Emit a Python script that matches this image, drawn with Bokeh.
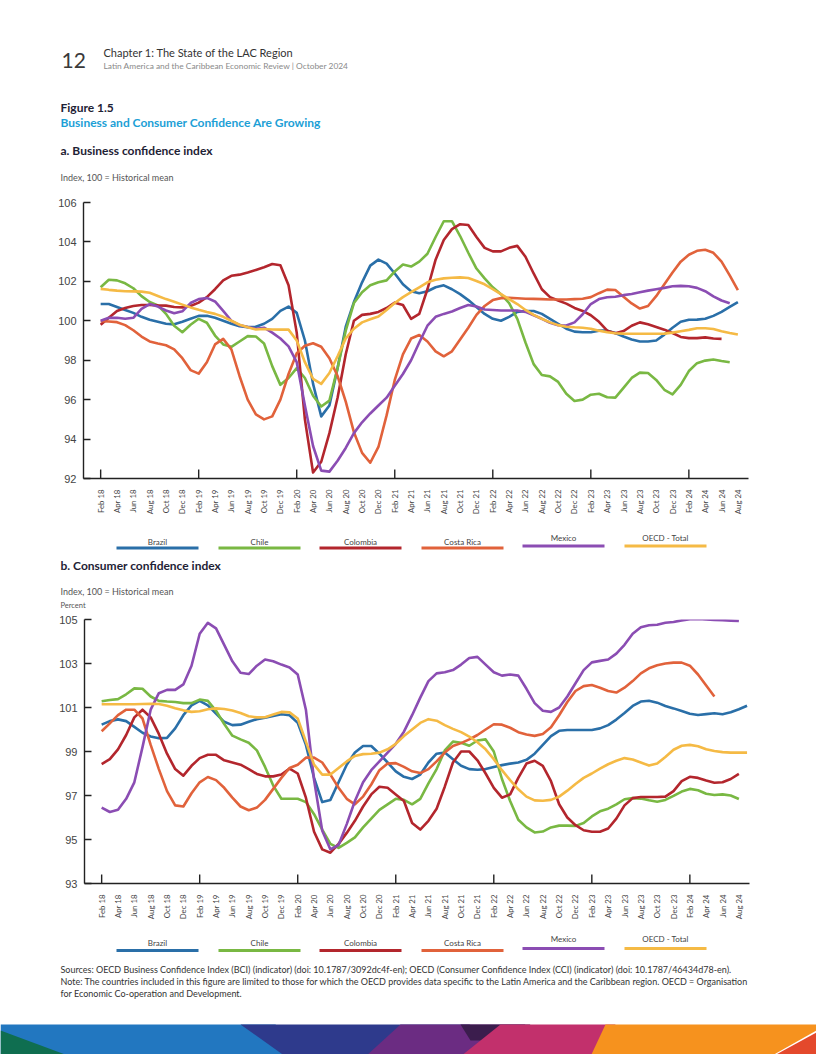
import math
from bokeh.plotting import figure
from bokeh.models import Range1d, FixedTicker, LinearAxis
from bokeh.core.properties import value
from bokeh.embed import file_html
from bokeh.resources import INLINE

nan = float("nan")

# ---------------- data (monthly, Feb 2018 = index 0) ----------------
months = list(range(80))

tick_labels = ["Feb 18", "Apr 18", "Jun 18", "Aug 18", "Oct 18", "Dec 18",
               "Feb 19", "Apr 19", "Jun 19", "Aug 19", "Oct 19", "Dec 19",
               "Feb 20", "Apr 20", "Jun 20", "Aug 20", "Oct 20", "Dec 20",
               "Feb 21", "Apr 21", "Jun 21", "Aug 21", "Oct 21", "Dec 21",
               "Feb 22", "Apr 22", "Jun 22", "Aug 22", "Oct 22", "Dec 22",
               "Feb 23", "Apr 23", "Jun 23", "Aug 23", "Oct 23", "Dec 23",
               "Feb 24", "Apr 24", "Jun 24", "Aug 24"]

countries = ["Brazil", "Chile", "Colombia", "Costa Rica", "Mexico", "OECD - Total"]

bci_brazil = [100.85, 100.85, 100.7, 100.55, 100.4, 100.2, 100.05, 99.95, 99.85, 99.82,
              99.95, 100.1, 100.25, 100.25, 100.15, 100.0, 99.85, 99.72, 99.68, 99.7,
              99.85, 100.1, 100.5, 100.72, 100.4, 99.0, 96.8, 95.15, 95.7, 97.6,
              99.7, 100.95, 101.95, 102.8, 103.1, 102.9, 102.4, 101.85, 101.5, 101.4,
              101.5, 101.7, 101.8, 101.6, 101.35, 101.05, 100.7, 100.35, 100.1, 100.0,
              100.2, 100.45, 100.5, 100.5, 100.35, 100.1, 99.85, 99.6, 99.45, 99.42,
              99.42, 99.5, 99.5, 99.38, 99.2, 99.05, 98.95, 98.95, 99.0, 99.3,
              99.65, 99.95, 100.05, 100.06, 100.1, 100.25, 100.45, 100.7, 100.95, nan]

bci_chile = [101.7, 102.08, 102.05, 101.9, 101.65, 101.25, 100.95, 100.78, 100.35, 99.75,
             99.42, 99.8, 100.1, 99.9, 99.25, 98.8, 98.68, 98.95, 99.22, 99.2,
             98.85, 97.7, 96.75, 97.1, 97.6, 97.1, 96.2, 95.65, 95.95, 97.6,
             99.5, 100.9, 101.45, 101.8, 101.95, 102.05, 102.5, 102.85, 102.75, 103.0,
             103.4, 104.25, 105.05, 105.05, 104.3, 103.45, 102.65, 102.15, 101.7, 101.35,
             100.9, 100.1, 98.9, 97.8, 97.25, 97.18, 96.9, 96.3, 95.93, 96.0,
             96.25, 96.3, 96.12, 96.1, 96.6, 97.1, 97.37, 97.35, 97.0, 96.5,
             96.27, 96.75, 97.45, 97.85, 97.98, 98.04, 97.96, 97.9, nan, nan]

bci_colombia = [99.8, 100.15, 100.5, 100.65, 100.75, 100.8, 100.8, 100.78, 100.77, 100.7,
                100.68, 100.75, 100.92, 101.2, 101.6, 102.05, 102.28, 102.34, 102.45, 102.58,
                102.72, 102.88, 102.82, 101.8, 99.4, 95.0, 92.3, 92.85, 94.3, 96.1,
                98.3, 100.0, 100.3, 100.35, 100.45, 100.65, 100.92, 100.8, 100.1, 100.35,
                101.6, 103.1, 104.1, 104.65, 104.9, 104.86, 104.25, 103.7, 103.52, 103.52,
                103.7, 103.8, 103.25, 102.4, 101.6, 101.2, 101.03, 100.87, 100.65, 100.5,
                100.28, 99.95, 99.5, 99.37, 99.48, 99.75, 99.92, 99.82, 99.68, 99.55,
                99.38, 99.18, 99.12, 99.12, 99.16, 99.1, 99.08, nan, nan, nan]

bci_costa_rica = [99.98, 99.96, 99.93, 99.78, 99.52, 99.2, 98.95, 98.85, 98.76, 98.55,
                  98.1, 97.5, 97.32, 97.9, 98.8, 99.08, 98.55, 97.2, 96.0, 95.25,
                  95.0, 95.15, 96.0, 97.3, 98.35, 98.73, 98.86, 98.68, 98.1, 97.2,
                  95.9, 94.35, 93.3, 92.8, 93.6, 95.2, 97.0, 98.3, 99.1, 99.28,
                  98.95, 98.45, 98.2, 98.45, 99.05, 99.65, 100.3, 100.75, 101.05, 101.15,
                  101.16, 101.14, 101.12, 101.11, 101.1, 101.08, 101.08, 101.08, 101.1, 101.12,
                  101.2, 101.4, 101.58, 101.56, 101.22, 100.88, 100.62, 100.75, 101.25, 101.85,
                  102.45, 103.0, 103.35, 103.55, 103.6, 103.45, 103.0, 102.3, 101.55, nan]

bci_mexico = [100.0, 100.15, 100.15, 100.1, 100.15, 100.6, 100.85, 100.72, 100.52, 100.38,
              100.48, 100.9, 101.1, 101.16, 100.98, 100.5, 100.0, 99.78, 99.68, 99.6,
              99.65, 99.4, 99.1, 98.7, 97.9, 95.7, 93.65, 92.4, 92.35, 92.9,
              93.55, 94.3, 94.85, 95.3, 95.7, 96.1, 96.7, 97.3, 98.0, 98.9,
              99.75, 100.2, 100.35, 100.47, 100.65, 100.8, 100.72, 100.57, 100.55, 100.52,
              100.52, 100.52, 100.45, 100.28, 100.1, 99.9, 99.77, 99.76, 99.92, 100.33,
              100.85, 101.1, 101.19, 101.22, 101.3, 101.36, 101.45, 101.53, 101.6, 101.67,
              101.75, 101.77, 101.75, 101.67, 101.5, 101.24, 101.03, 100.89, nan, nan]

bci_oecd = [101.62, 101.57, 101.53, 101.5, 101.49, 101.48, 101.42, 101.26, 101.1, 100.97,
            100.82, 100.68, 100.56, 100.45, 100.35, 100.2, 100.0, 99.8, 99.67, 99.56,
            99.58, 99.56, 99.55, 99.55, 99.0, 97.9, 97.05, 96.8, 97.35, 98.2,
            99.1, 99.6, 99.92, 100.08, 100.22, 100.55, 100.9, 101.2, 101.45, 101.7,
            101.95, 102.08, 102.15, 102.18, 102.2, 102.17, 102.02, 101.85, 101.6, 101.35,
            101.1, 100.85, 100.55, 100.3, 100.1, 99.92, 99.78, 99.7, 99.67, 99.65,
            99.6, 99.5, 99.42, 99.37, 99.35, 99.34, 99.34, 99.34, 99.34, 99.35,
            99.4, 99.47, 99.54, 99.62, 99.62, 99.58, 99.47, 99.38, 99.3, nan]

cci_brazil = [100.22, 100.38, 100.46, 100.38, 100.12, 99.85, 99.68, 99.6, 99.62, 100.05,
              100.65, 101.1, 101.3, 101.1, 100.72, 100.35, 100.2, 100.22, 100.35, 100.47,
              100.54, 100.62, 100.69, 100.65, 100.3, 99.3, 97.8, 96.7, 96.8, 97.6,
              98.4, 98.95, 99.25, 99.25, 98.9, 98.5, 98.1, 97.85, 97.75, 97.95,
              98.5, 98.9, 98.95, 98.65, 98.35, 98.2, 98.17, 98.2, 98.3, 98.38,
              98.45, 98.5, 98.62, 98.9, 99.3, 99.7, 99.94, 99.98, 99.98, 99.98,
              99.98, 100.05, 100.2, 100.45, 100.75, 101.07, 101.27, 101.31, 101.22, 101.07,
              100.96, 100.84, 100.72, 100.66, 100.7, 100.74, 100.69, 100.78, 100.92, 101.08]

cci_chile = [101.28, 101.34, 101.38, 101.6, 101.87, 101.85, 101.5, 101.3, 101.27, 101.25,
             101.2, 101.2, 101.36, 101.3, 100.85, 100.25, 99.72, 99.55, 99.4, 99.05,
             98.3, 97.45, 96.85, 96.85, 96.85, 96.7, 96.15, 95.45, 94.8, 94.62,
             94.85, 95.1, 95.55, 95.95, 96.35, 96.6, 96.85, 96.8, 96.6, 96.85,
             97.55, 98.2, 99.05, 99.45, 99.4, 99.26, 99.5, 99.55, 99.0, 97.75,
             96.75, 95.9, 95.55, 95.32, 95.36, 95.55, 95.63, 95.63, 95.62, 95.75,
             96.05, 96.28, 96.4, 96.6, 96.83, 96.88, 96.86, 96.78, 96.72, 96.8,
             96.98, 97.18, 97.3, 97.24, 97.08, 97.02, 97.05, 97.0, 96.84, nan]

cci_colombia = [98.43, 98.65, 99.1, 99.75, 100.55, 100.9, 100.55, 99.8, 98.9, 98.2,
                97.9, 98.35, 98.7, 98.85, 98.85, 98.6, 98.5, 98.4, 98.2, 97.98,
                97.87, 97.87, 97.95, 98.22, 98.0, 96.9, 95.35, 94.55, 94.4, 94.8,
                95.3, 95.85, 96.5, 97.05, 97.4, 97.35, 97.05, 96.75, 95.75, 95.45,
                95.85, 96.4, 97.4, 98.5, 99.0, 99.0, 98.6, 98.0, 97.35, 96.9,
                97.05, 97.8, 98.45, 98.58, 98.35, 97.65, 96.6, 96.0, 95.65, 95.42,
                95.35, 95.35, 95.5, 95.95, 96.55, 96.88, 96.93, 96.93, 96.93, 96.95,
                97.2, 97.65, 97.85, 97.8, 97.68, 97.58, 97.6, 97.75, 97.98, nan]

cci_costa_rica = [99.92, 100.28, 100.65, 100.9, 100.9, 100.5, 99.3, 98.2, 97.2, 96.55,
                  96.5, 97.1, 97.6, 97.84, 97.7, 97.35, 96.9, 96.5, 96.33, 96.45,
                  96.8, 97.3, 97.8, 98.25, 98.4, 98.72, 98.72, 98.5, 97.95, 97.35,
                  96.85, 96.6, 96.95, 97.5, 98.15, 98.45, 98.47, 98.3, 98.1, 98.02,
                  98.2, 98.55, 98.95, 99.25, 99.38, 99.55, 99.75, 100.0, 100.24, 100.22,
                  100.08, 99.88, 99.77, 99.71, 99.8, 100.1, 100.65, 101.25, 101.75, 101.97,
                  102.02, 101.9, 101.75, 101.68, 101.9, 102.2, 102.55, 102.78, 102.92, 103.0,
                  103.04, 103.04, 102.9, 102.5, 102.0, 101.5, nan, nan, nan, nan]

cci_mexico = [96.45, 96.25, 96.35, 96.85, 97.6, 99.2, 100.9, 101.65, 101.8, 101.8,
              102.05, 102.9, 104.35, 104.85, 104.6, 103.85, 103.1, 102.58, 102.52, 102.9,
              103.18, 103.1, 102.95, 102.82, 102.5, 100.9, 97.7, 95.4, 94.55, 94.75,
              95.7, 96.75, 97.6, 98.15, 98.55, 98.95, 99.35, 99.9, 100.65, 101.45,
              102.2, 102.55, 102.6, 102.7, 102.95, 103.25, 103.3, 102.95, 102.6, 102.45,
              102.5, 102.45, 101.85, 101.2, 100.85, 100.8, 101.0, 101.5, 102.1, 102.7,
              103.05, 103.12, 103.18, 103.45, 103.85, 104.35, 104.65, 104.74, 104.76, 104.85,
              104.89, 104.96, 105.01, 105.03, 105.0, 104.98, 104.97, 104.95, 104.93, nan]

cci_oecd = [101.15, 101.15, 101.15, 101.15, 101.15, 101.16, 101.17, 101.16, 101.08, 100.97,
            100.87, 100.8, 100.83, 100.92, 100.96, 100.93, 100.86, 100.75, 100.6, 100.55,
            100.56, 100.68, 100.8, 100.78, 100.5, 99.45, 98.4, 97.95, 97.95, 98.25,
            98.55, 98.8, 98.88, 98.9, 98.95, 99.1, 99.35, 99.7, 100.0, 100.3,
            100.47, 100.4, 100.2, 100.03, 99.88, 99.68, 99.42, 99.1, 98.65, 98.15,
            97.7, 97.28, 96.95, 96.78, 96.76, 96.8, 96.95, 97.22, 97.52, 97.8,
            98.0, 98.22, 98.42, 98.58, 98.7, 98.64, 98.5, 98.36, 98.45, 98.75,
            99.08, 99.26, 99.3, 99.24, 99.1, 99.02, 98.97, 98.95, 98.95, 98.95]

bci_series = [bci_brazil, bci_chile, bci_colombia, bci_costa_rica, bci_mexico, bci_oecd]
cci_series = [cci_brazil, cci_chile, cci_colombia, cci_costa_rica, cci_mexico, cci_oecd]

# ---------------- styling ----------------
COLORS = ["#2a6fa8", "#79b843", "#b3262d", "#e1623b", "#8b4db3", "#f5ba45"]
FONT = "Lato"
DARK = "#1e2235"
W = 816


def text_fig(top, h):
    p = figure(width=W, height=h, x_range=Range1d(0, W), y_range=Range1d(top + h, top),
               toolbar_location=None, output_backend="svg", x_axis_type=None, y_axis_type=None,
               min_border_left=0, min_border_right=0, min_border_top=0, min_border_bottom=0)
    p.grid.visible = False
    p.outline_line_color = None
    return p


def txt(p, x, y, s, size, color="#333", bold=False, align="left"):
    p.text(x=[x], y=[y], text=[s], text_font=value(FONT), text_font_size=size,
           text_font_style="bold" if bold else "normal", text_color=color,
           text_baseline="middle", text_align=align)


def legend(p, y_text, y_line):
    centers = [157, 259, 360, 462, 563, 665]
    for i, (name, c) in enumerate(zip(countries, COLORS)):
        up = 4 if i >= 4 else 0
        up_l = 2 if i >= 4 else 0
        cx = centers[i]
        txt(p, cx, y_text - up, name, "8px", "#444", align="center")
        p.segment(x0=[cx - 41], y0=[y_line - up_l], x1=[cx + 41], y1=[y_line - up_l],
                  line_color=c, line_width=3)


def panel(height, b_top, b_bottom, b_left, b_right, ymin, ymax, yticks, series):
    p = figure(width=W, height=height, x_range=Range1d(-2.1, 79.3), y_range=Range1d(ymin, ymax),
               toolbar_location=None, output_backend="svg", x_axis_type=None, y_axis_type=None,
               min_border_left=b_left, min_border_right=b_right,
               min_border_top=b_top, min_border_bottom=b_bottom)
    p.grid.visible = False
    p.outline_line_color = None

    yax = LinearAxis(ticker=FixedTicker(ticks=yticks))
    yax.axis_line_color = "#222"
    yax.axis_line_width = 1.4
    yax.major_tick_line_color = "#222"
    yax.major_tick_line_width = 1.4
    yax.major_tick_in = 7
    yax.major_tick_out = 0
    yax.minor_tick_line_color = None
    yax.major_label_text_font = "Liberation Sans"
    yax.major_label_text_font_size = "11px"
    yax.major_label_text_color = "#444"
    yax.major_label_standoff = 7
    p.add_layout(yax, "left")

    tick_pos = [2 * i for i in range(len(tick_labels))]
    xax = LinearAxis(ticker=FixedTicker(ticks=tick_pos))
    xax.major_label_overrides = {t: lab for t, lab in zip(tick_pos, tick_labels)}
    xax.major_label_orientation = math.pi / 2
    xax.axis_line_color = "#222"
    xax.axis_line_width = 1.4
    xax.major_tick_line_color = None
    xax.minor_tick_line_color = None
    xax.major_label_text_font = FONT
    xax.major_label_text_font_size = "7.8px"
    xax.major_label_text_color = "#444"
    xax.major_label_standoff = 5
    p.add_layout(xax, "below")

    # inward year ticks (February of each year)
    frame_h = height - b_top - b_bottom
    tick_len = 9 * (ymax - ymin) / frame_h
    feb = [t for t, lab in zip(tick_pos, tick_labels) if lab.startswith("Feb")]
    p.segment(x0=feb, y0=[ymin] * len(feb), x1=feb, y1=[ymin + tick_len] * len(feb),
              line_color="#222", line_width=1.4)

    for vals, c in zip(series, COLORS):
        p.line(months, vals, line_color=c, line_width=2.6, line_join="round")
    return p


# ---------------- header (page y 0-190) ----------------
head = text_fig(0, 190)
txt(head, 61, 60, "12", "21px", "#3a3a3a")
txt(head, 103, 52, "Chapter 1: The State of the LAC Region", "11px", "#333")
txt(head, 103, 65.5, "Latin America and the Caribbean Economic Review | October 2024", "8.4px", "#8a8a8a")
txt(head, 60, 107, "Figure 1.5", "12px", DARK, bold=True)
txt(head, 60, 122, "Business and Consumer Confidence Are Growing", "12px", "#1ca0d6", bold=True)
txt(head, 60, 150, "a. Business confidence index", "12px", DARK, bold=True)
txt(head, 60, 177, "Index, 100 = Historical mean", "9px", "#555")

# ---------------- panel a (page y 190-520) ----------------
pa = panel(330, 12, 42, 83, 68, 92, 106, [92, 94, 96, 98, 100, 102, 104, 106], bci_series)

# ---------------- legend a + title b (page y 520-612) ----------------
mid = text_fig(520, 92)
legend(mid, 541, 547.5)
txt(mid, 60, 565, "b. Consumer confidence index", "12px", DARK, bold=True)
txt(mid, 60, 591, "Index, 100 = Historical mean", "9px", "#555")
txt(mid, 60, 605, "Percent", "7.5px", "#555")

# ---------------- panel b (page y 612-922) ----------------
pb = panel(310, 7, 38, 84, 67, 93, 105, [93, 95, 97, 99, 101, 103, 105], cci_series)

# ---------------- legend b + notes + band (page y 922-1054) ----------------
foot = text_fig(922, 132)
legend(foot, 942, 950)
txt(foot, 60, 969, "Sources: OECD Business Confidence Index (BCI) (indicator) (doi: 10.1787/3092dc4f-en); "
    "OECD (Consumer Confidence Index (CCI) (indicator) (doi: 10.1787/46434d78-en).", "9px", "#333")
txt(foot, 60, 981, "Note: The countries included in this figure are limited to those for which the OECD provides "
    "data specific to the Latin America and the Caribbean region. OECD = Organisation", "9px", "#333")
txt(foot, 60, 993, "for Economic Co-operation and Development.", "9px", "#333")

band_xs = [[0, 275, 305, 0], [240, 470, 390, 285], [400, 525, 475, 365], [460, 530, 505, 470],
           [500, 615, 600, 460], [605, 816, 816, 770, 590], [772, 816, 816], [0, 70, 0]]
band_ys = [[1024, 1024, 1056, 1056], [1024, 1024, 1056, 1056], [1024, 1024, 1056, 1056],
           [1024, 1024, 1040, 1040], [1024, 1024, 1056, 1056], [1024, 1024, 1030, 1056, 1056],
           [1056, 1032, 1056], [1030, 1056, 1056]]
band_cols = ["#2277c0", "#2e3a8c", "#6b2c82", "#3b1d4d", "#c2306c", "#f6921e", "#e4492c", "#0f6e50"]
foot.patches(band_xs, band_ys, fill_color=band_cols, line_color=None)

# separate roots: each figure keeps its own frame (no cross-figure frame alignment)
open("out.html", "w").write(file_html([head, pa, mid, pb, foot], INLINE, title="Figure 1.5"))
